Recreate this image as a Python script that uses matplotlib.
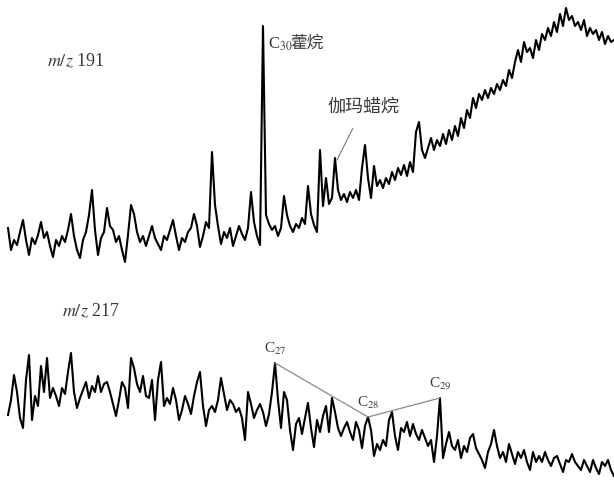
import matplotlib
matplotlib.use("Agg")
import matplotlib.pyplot as plt
import numpy as np

plt.rcParams['font.family'] = ['Liberation Serif', 'Noto Sans CJK SC']
plt.rcParams['mathtext.fontset'] = 'stix'

# —— data: scan position and relative abundance —— #
scan = np.arange(8, 615, 3)

mz191 = [42, 20, 30, 25, 38, 50, 30, 15, 32, 26,
         35, 48, 32, 38, 24, 13, 30, 24, 34, 28,
         40, 56, 34, 20, 12, 30, 38, 55, 80, 40,
         15, 32, 38, 62, 44, 40, 28, 34, 20, 8,
         35, 65, 56, 38, 28, 34, 24, 34, 44, 32,
         26, 20, 34, 30, 40, 50, 34, 20, 32, 28,
         38, 42, 56, 44, 23, 34, 48, 42, 118, 65,
         44, 26, 38, 32, 42, 24, 34, 44, 36, 30,
         42, 78, 48, 34, 25, 244, 55, 46, 40, 44,
         34, 42, 74, 55, 44, 38, 46, 42, 52, 46,
         84, 56, 45, 38, 120, 64, 92, 66, 72, 112,
         80, 70, 76, 68, 78, 72, 80, 70, 102, 125,
         92, 72, 104, 84, 90, 82, 92, 86, 98, 90,
         102, 95, 105, 94, 108, 98, 138, 148, 120, 112,
         122, 132, 120, 130, 124, 136, 126, 140, 130, 144,
         134, 152, 142, 160, 152, 172, 162, 176, 170, 180,
         172, 182, 176, 186, 180, 190, 184, 200, 192, 208,
         220, 208, 228, 218, 222, 212, 230, 220, 236, 230,
         242, 234, 248, 238, 256, 244, 262, 250, 254, 244,
         248, 240, 250, 234, 242, 236, 240, 230, 238, 226,
         234, 228, 230]

mz217 = [67, 82, 107, 90, 64, 54, 102, 127, 62, 86,
         76, 116, 90, 124, 84, 94, 86, 76, 94, 88,
         110, 129, 90, 74, 84, 92, 100, 84, 96, 90,
         106, 90, 98, 100, 90, 78, 66, 82, 100, 94,
         74, 124, 114, 98, 90, 106, 86, 84, 102, 62,
         102, 120, 76, 84, 78, 94, 82, 62, 72, 86,
         78, 68, 86, 100, 110, 76, 56, 72, 76, 70,
         82, 104, 88, 72, 82, 78, 70, 74, 64, 42,
         90, 78, 64, 72, 78, 70, 56, 68, 90, 119,
         82, 54, 90, 82, 52, 32, 58, 64, 48, 64,
         79, 54, 35, 62, 50, 66, 76, 50, 84, 70,
         54, 46, 54, 60, 50, 42, 60, 52, 34, 56,
         65, 52, 26, 38, 32, 42, 36, 62, 70, 46,
         32, 54, 50, 60, 46, 58, 48, 42, 52, 44,
         36, 42, 20, 46, 84, 24, 38, 50, 36, 32,
         42, 24, 36, 30, 44, 48, 34, 28, 22, 14,
         30, 38, 52, 36, 24, 30, 20, 38, 28, 18,
         30, 24, 32, 20, 12, 30, 20, 26, 20, 30,
         22, 16, 24, 26, 18, 10, 22, 20, 28, 20,
         16, 12, 22, 16, 10, 22, 14, 8, 20, 16,
         22, 12, 6]

# peak indices on the scan axis
i_c30 = 85
i_gam = 109
i_c27, i_c28, i_c29 = 89, 120, 144

txt = '#3a3a3a'

fig = plt.figure(figsize=(6.14, 4.82), dpi=100)
ax1 = fig.add_axes([0, 1 - 270 / 482, 1, 270 / 482])
ax2 = fig.add_axes([0, 0, 1, 202 / 482])

# —— m/z 191 —— #
ax1.plot(scan, mz191, color='black', lw=1.5)
ax1.set_xlim(0, 614)
ax1.set_ylim(0, 270)
ax1.axis('off')
ax1.text(47, 209, '$m/z$ 191', fontsize=13, color=txt, va='center', ha='left')

# hopane label: formula and name set side by side next to the spike
c30_xy = (scan[i_c30], mz191[i_c30])
ax1.annotate('C$_{30}$', xy=c30_xy, xytext=(3.6, -13.5),
             textcoords='offset points', fontsize=12, color=txt,
             ha='left', va='center')
ax1.annotate('藿烷', xy=c30_xy, xytext=(19.5, -13),
             textcoords='offset points', fontsize=12, color=txt,
             ha='left', va='center')

ax1.annotate('伽玛蜡烷', xy=(scan[i_gam] + 2, mz191[i_gam] - 2),
             xytext=(19, 38), textcoords='offset points', fontsize=13,
             color=txt, ha='center', va='center',
             arrowprops=dict(arrowstyle='-', color='#777777', lw=0.8,
                             shrinkA=8, shrinkB=0))

# —— m/z 217 —— #
ax2.plot(scan, mz217, color='black', lw=1.5)
ax2.set_xlim(0, 614)
ax2.set_ylim(0, 202)
ax2.axis('off')
ax2.text(62, 171, '$m/z$ 217', fontsize=13, color=txt, va='center', ha='left')

steranes = [i_c27, i_c28, i_c29]
ax2.plot(scan[steranes], [mz217[i] for i in steranes], color='#8a8a8a', lw=0.9)
for i, lab in zip(steranes, ['C$_{27}$', 'C$_{28}$', 'C$_{29}$']):
    ax2.annotate(lab, xy=(scan[i], mz217[i]), xytext=(0, 4),
                 textcoords='offset points', fontsize=11, color=txt,
                 ha='center', va='bottom')

fig.savefig('out.png', dpi=100)
